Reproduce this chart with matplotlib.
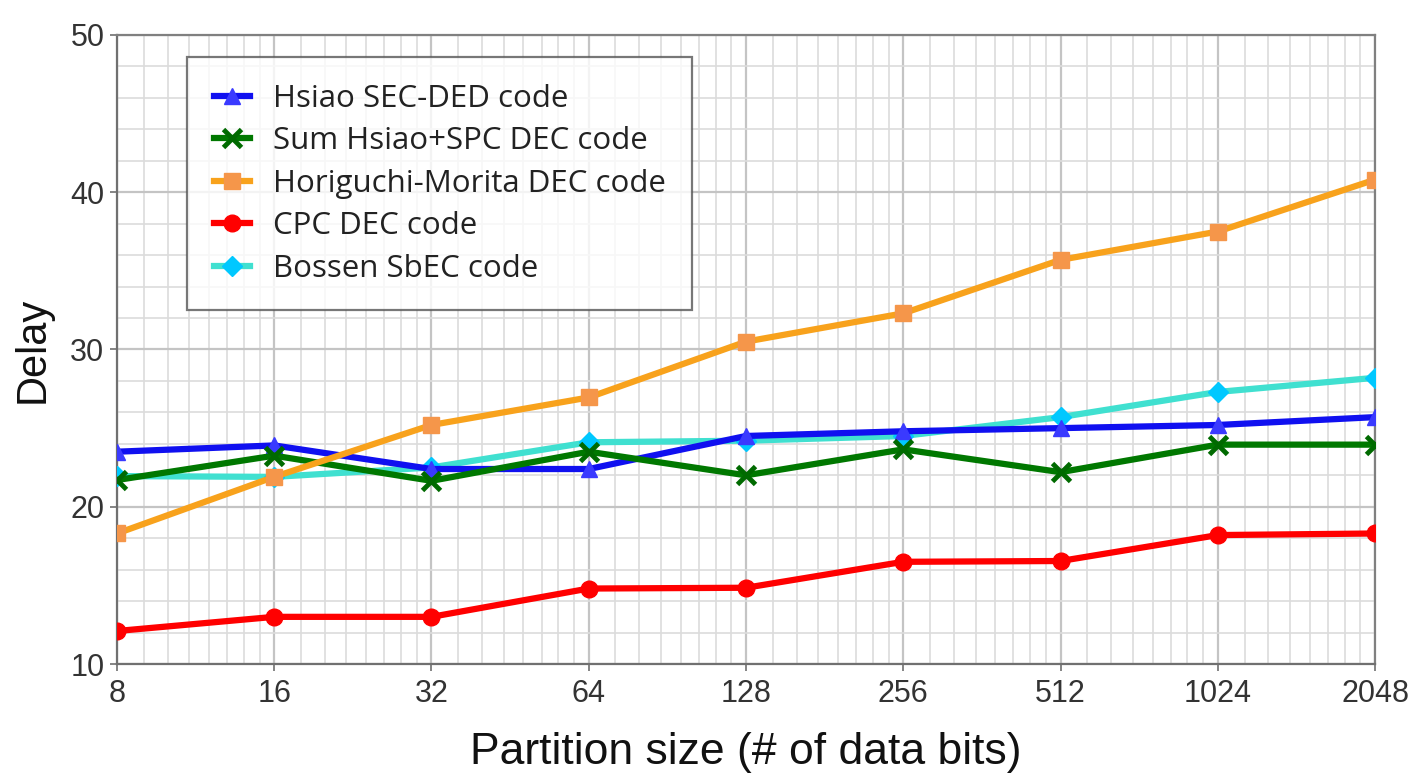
import numpy as np
import matplotlib
matplotlib.use("Agg")
import matplotlib.pyplot as plt
from matplotlib.ticker import FixedLocator, MultipleLocator, NullFormatter

# Partition sizes (number of data bits) and decoding delay per code
partition_sizes = [8, 16, 32, 64, 128, 256, 512, 1024, 2048]
tick_labels = ["8", "16", "32", "64", "128", "256", "512", "1024", "2048"]

hsiao_secded = [23.5, 23.9, 22.4, 22.4, 24.5, 24.8, 25.0, 25.2, 25.7]
sum_hsiao_spc = [21.7, 23.25, 21.65, 23.5, 22.0, 23.65, 22.2, 23.95, 23.95]
horiguchi_morita = [18.3, 21.9, 25.2, 26.95, 30.5, 32.3, 35.7, 37.5, 40.8]
cpc_dec = [12.1, 13.0, 13.0, 14.8, 14.85, 16.5, 16.55, 18.2, 18.3]
bossen_sbec = [21.95, 21.9, 22.5, 24.1, 24.2, 24.5, 25.7, 27.3, 28.2]

series_labels = [
    "Hsiao SEC-DED code",
    "Sum Hsiao+SPC DEC code",
    "Horiguchi-Morita DEC code",
    "CPC DEC code",
    "Bossen SbEC code",
]

fig = plt.figure(figsize=(14.09, 7.77), dpi=100)
ax = fig.add_axes([0.0830, 0.1454, 0.8929, 0.8096])

lw = 4.5
ms = 11

h_boss, = ax.plot(partition_sizes, bossen_sbec, color="#40e0d0", lw=lw,
                  marker="D", ms=ms - 1, mfc="#00c8ff", mec="#00c8ff",
                  label=series_labels[4], zorder=3)
h_hsiao, = ax.plot(partition_sizes, hsiao_secded, color="#1010f0", lw=lw,
                   marker="^", ms=ms + 1, mfc="#3a3aff", mec="#3a3aff",
                   label=series_labels[0], zorder=4)
h_sum, = ax.plot(partition_sizes, sum_hsiao_spc, color="#007800", lw=lw,
                 marker="x", ms=ms + 2, mew=3.5, mec="#006a00",
                 label=series_labels[1], zorder=5)
h_hor, = ax.plot(partition_sizes, horiguchi_morita, color="#f8a21c", lw=lw,
                 marker="s", ms=ms, mfc="#f5964a", mec="#f5964a",
                 label=series_labels[2], zorder=6)
h_cpc, = ax.plot(partition_sizes, cpc_dec, color="#ff0000", lw=lw,
                 marker="o", ms=ms + 1, mfc="#ff0000", mec="#ff0000",
                 label=series_labels[3], zorder=7)

ax.set_xscale("log", base=2)
ax.set_xlim(8, 2048)
ax.set_ylim(10, 50)

ax.xaxis.set_major_locator(FixedLocator(partition_sizes))
ax.set_xticklabels(tick_labels)
minor_x = [m * p / 8 for p in partition_sizes[:-1] for m in range(9, 16)]
ax.xaxis.set_minor_locator(FixedLocator(minor_x))
ax.xaxis.set_minor_formatter(NullFormatter())

ax.yaxis.set_major_locator(MultipleLocator(10))
ax.yaxis.set_minor_locator(MultipleLocator(2))

ax.grid(which="major", color="#c4c4c4", lw=1.6, zorder=0)
ax.grid(which="minor", color="#dcdcdc", lw=1.2, zorder=0)
ax.set_axisbelow(True)

for side, col in [("left", "#707070"), ("bottom", "#707070"),
                  ("top", "#808080"), ("right", "#808080")]:
    ax.spines[side].set_color(col)
    ax.spines[side].set_linewidth(1.6)

tick_family = ["Liberation Sans", "DejaVu Sans"]
ax.tick_params(which="major", direction="out", length=5, width=1.2,
               color="#707070")
ax.tick_params(axis="x", which="major", pad=6)
ax.tick_params(axis="y", which="major", pad=4)
ax.tick_params(which="minor", length=0)
for lab in ax.get_xticklabels() + ax.get_yticklabels():
    lab.set_fontfamily(tick_family)
    lab.set_fontsize(22)
    lab.set_color("#333333")

label_font = ["Liberation Sans", "DejaVu Sans"]
ax.set_xlabel("Partition size (# of data bits)", fontsize=32,
              family=label_font, labelpad=16, color="#111111")
ax.set_ylabel("Delay", fontsize=30, family=label_font, labelpad=13,
              color="#111111")

leg = ax.legend(handles=[h_hsiao, h_sum, h_hor, h_cpc, h_boss],
                loc="upper left", bbox_to_anchor=(0.0557, 0.965),
                borderaxespad=0, fancybox=False, framealpha=0.8,
                edgecolor="#555555", handlelength=1.15, handletextpad=0.75,
                labelspacing=0.4, borderpad=0.85, markerscale=1.0,
                prop={"family": ["Open Sans", "DejaVu Sans"], "size": 22.5})
leg.get_frame().set_linewidth(1.6)
for t in leg.get_texts():
    t.set_color("#222222")

fig.savefig("out.png", dpi=100)
